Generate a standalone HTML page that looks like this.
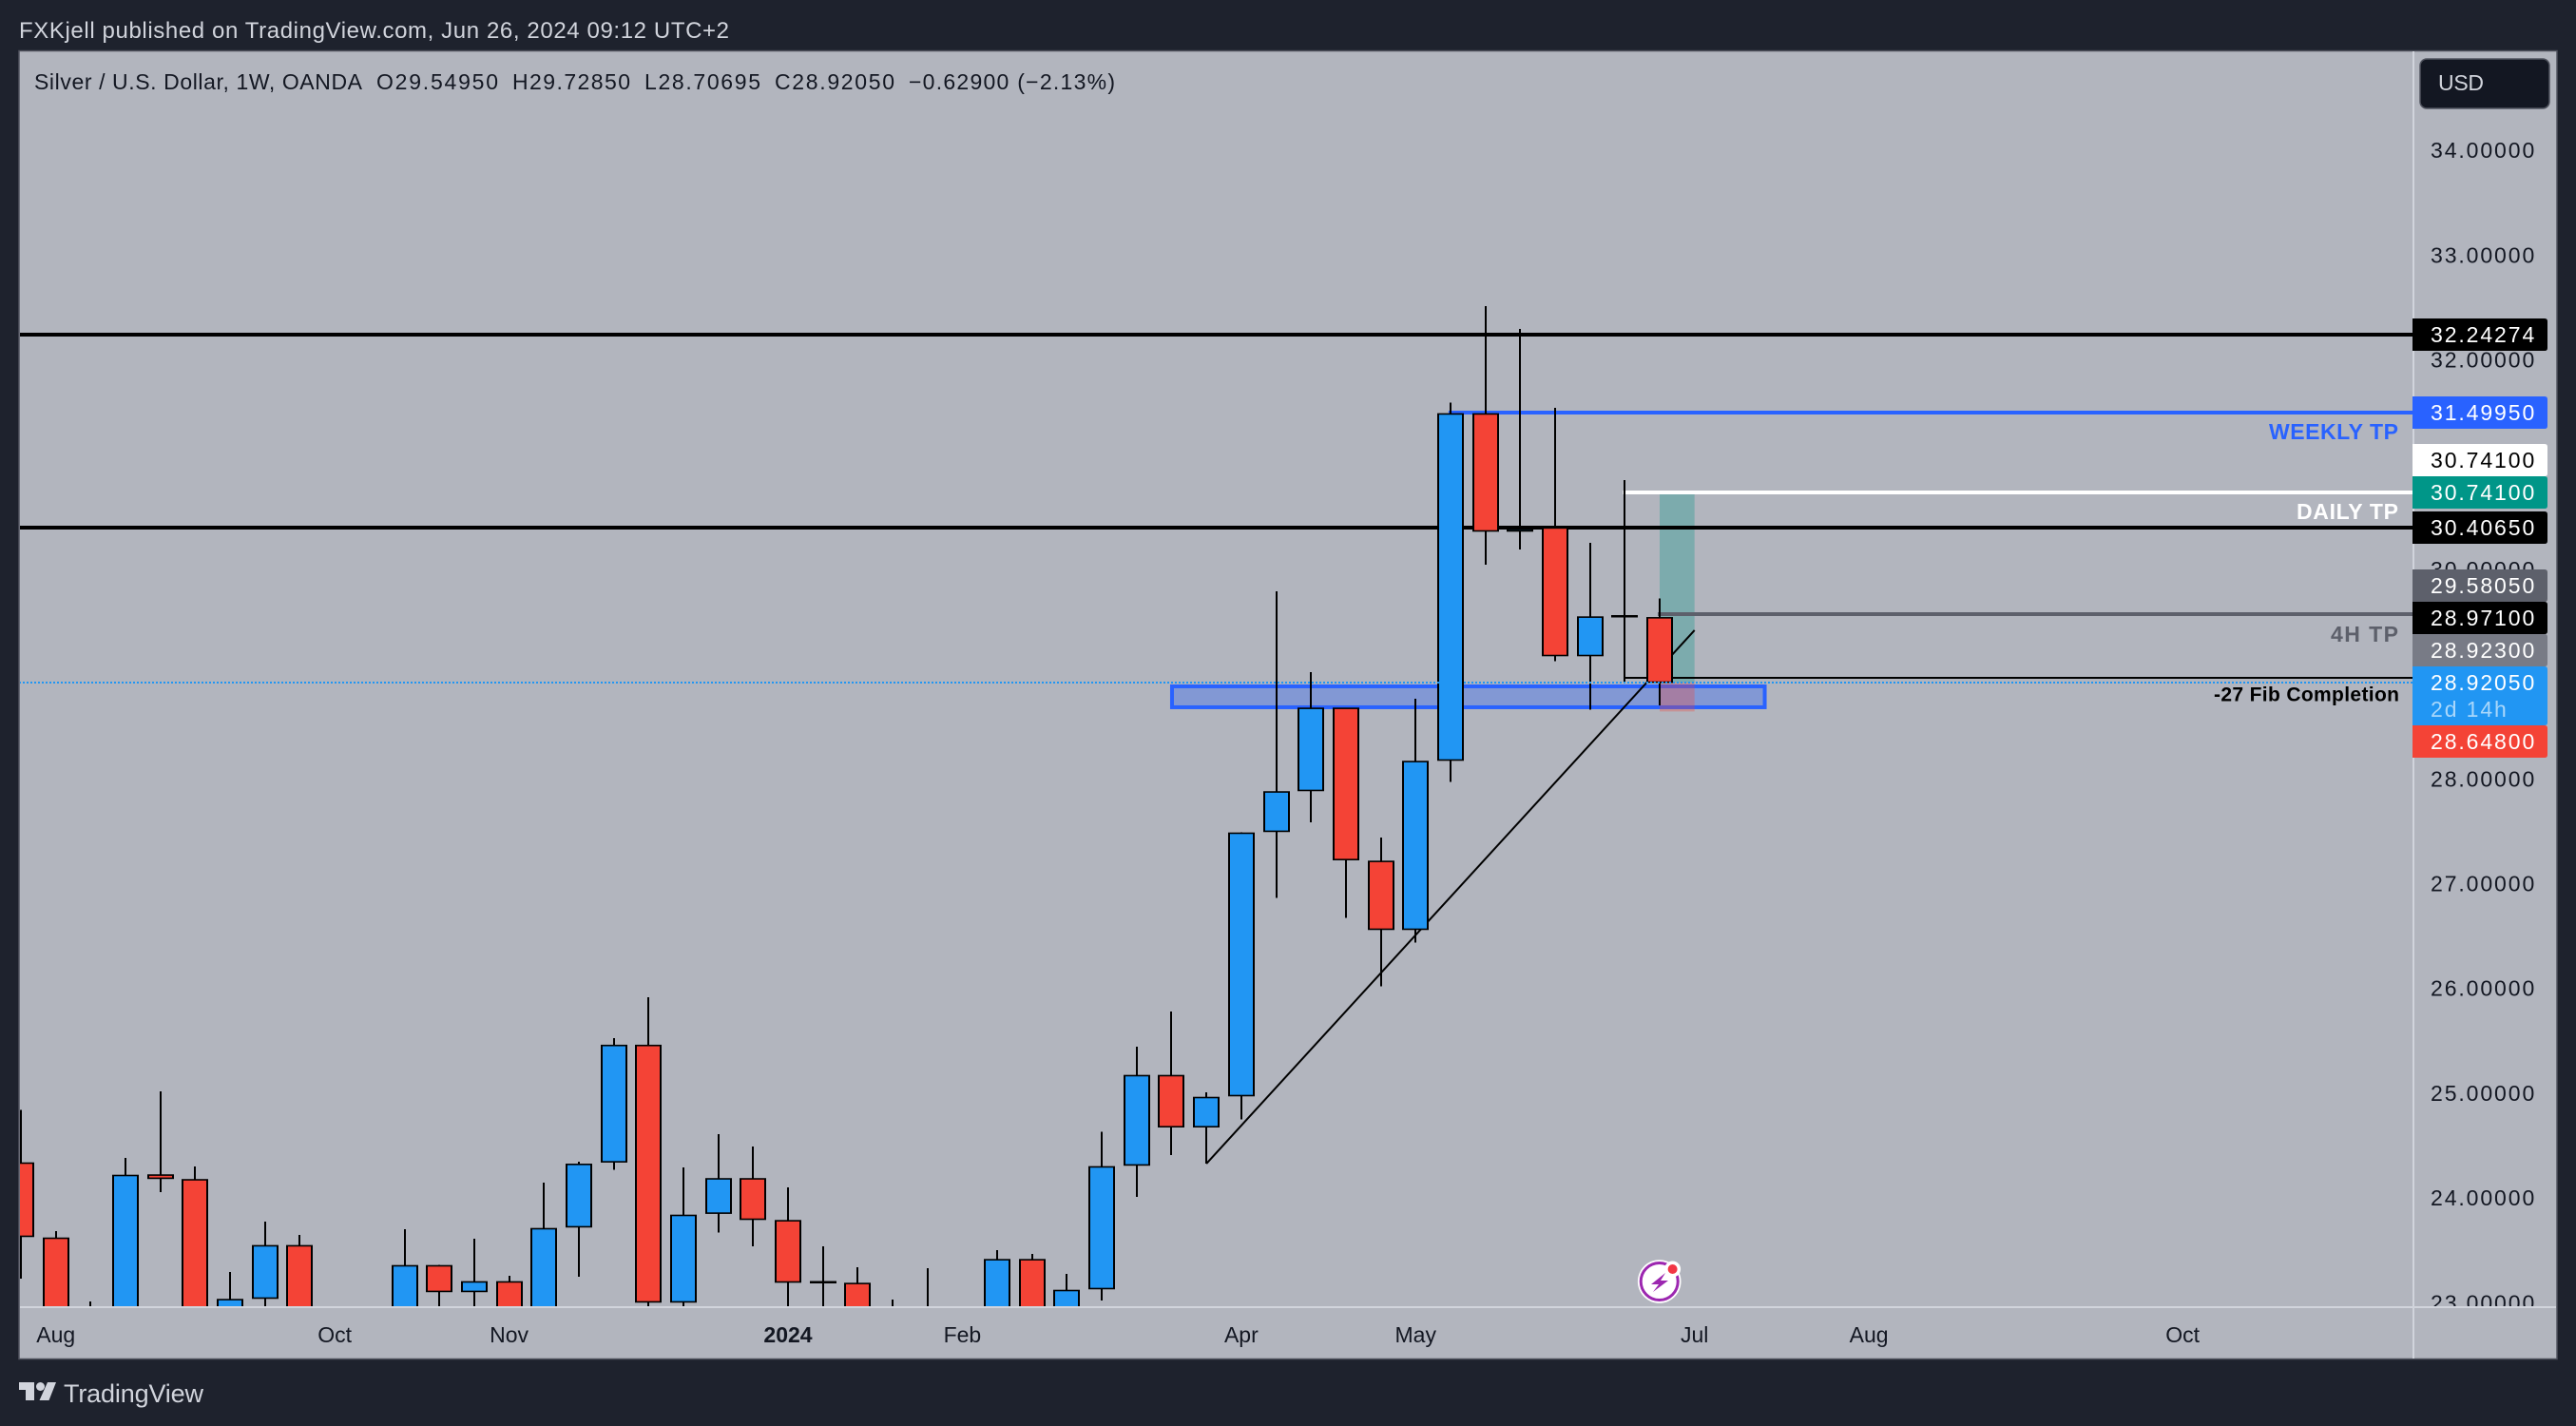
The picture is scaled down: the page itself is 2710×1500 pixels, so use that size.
<!DOCTYPE html>
<html lang="en">
<head>
<meta charset="utf-8">
<title>Silver / U.S. Dollar weekly chart</title>
<style>
html,body{margin:0;padding:0;background:#1e222d;width:2710px;height:1500px;overflow:hidden}
svg{display:block;font-family:"Liberation Sans",sans-serif}
</style>
</head>
<body>
<svg id="chart" xmlns="http://www.w3.org/2000/svg" width="2710" height="1500" viewBox="0 0 2710 1500">
  <defs>
    <clipPath id="pane-clip"><rect x="21" y="54" width="2517" height="1320"/></clipPath>
    <clipPath id="axis-clip"><rect x="2540" y="54" width="150" height="1320"/></clipPath>
  </defs>
  <rect x="0" y="0" width="2710" height="1500" fill="#1e222d"/>
  <text x="20" y="40" font-size="24" fill="#d1d4dc" textLength="747" lengthAdjust="spacing">FXKjell published on TradingView.com, Jun 26, 2024 09:12 UTC+2</text>
  <rect x="20" y="53.5" width="2670" height="1376" fill="#b2b5be" stroke="#50535e" stroke-width="1.5"/>
  <g id="pane" clip-path="url(#pane-clip)"></g>
  <g font-size="23" fill="#131722">
    <text x="36" y="94" textLength="345" lengthAdjust="spacing">Silver / U.S. Dollar, 1W, OANDA</text>
    <text x="396" y="94" textLength="128" lengthAdjust="spacing">O29.54950</text>
    <text x="539" y="94" textLength="124" lengthAdjust="spacing">H29.72850</text>
    <text x="678" y="94" textLength="122" lengthAdjust="spacing">L28.70695</text>
    <text x="815" y="94" textLength="126" lengthAdjust="spacing">C28.92050</text>
    <text x="956" y="94" textLength="217" lengthAdjust="spacing">−0.62900 (−2.13%)</text>
  </g>
  <g id="annotations" font-size="23" font-weight="700" text-anchor="end">
    <text x="2523" y="462" fill="#2962ff" textLength="136" lengthAdjust="spacing">WEEKLY TP</text>
    <text x="2523" y="546" fill="#ffffff" textLength="107" lengthAdjust="spacing">DAILY TP</text>
    <text x="2523" y="675" fill="#5d606b" textLength="71" lengthAdjust="spacing">4H TP</text>
    <text x="2524" y="737.5" fill="#000000" font-size="21" textLength="195" lengthAdjust="spacing">-27 Fib Completion</text>
  </g>
  <g>
    <circle cx="1745.7" cy="1348" r="22.8" fill="#ffffff"/>
    <circle cx="1745.7" cy="1348" r="19.5" fill="#ffffff" stroke="#9c27b0" stroke-width="3"/>
    <polygon points="1752,1339 1737,1351 1745,1351 1739,1359 1755,1347 1747,1347" fill="#9c27b0"/>
    <circle cx="1759.6" cy="1335" r="8.5" fill="#ffffff"/>
    <circle cx="1759.6" cy="1335" r="5" fill="#f23645"/>
  </g>
  <g id="time-axis" font-size="23" fill="#131722" text-anchor="middle"></g>
  <g id="price-axis" clip-path="url(#axis-clip)" font-size="23" fill="#131722" style="letter-spacing:1.9px"></g>
  <rect x="21" y="1374" width="2668" height="2" fill="#d1d4dc"/>
  <rect x="2538" y="54" width="2" height="1375" fill="#d1d4dc"/>
  <g id="tags" font-size="23" style="letter-spacing:1.9px"></g>
  <g>
    <rect x="2546" y="62" width="136" height="52" rx="7" fill="#131722" stroke="#50535e" stroke-width="1.5"/>
    <text x="2565" y="95" font-size="23" fill="#d1d4dc" textLength="48" lengthAdjust="spacing">USD</text>
  </g>
  <g>
    <polygon points="20,1454 36,1454 36,1473 27,1473 27,1462 20,1462" fill="#d1d4dc"/>
    <circle cx="42.5" cy="1458.5" r="4.5" fill="#d1d4dc"/>
    <polygon points="50,1454 59,1454 51.5,1473 41.5,1473" fill="#d1d4dc"/>
    <text x="67" y="1475" font-size="27" fill="#d1d4dc" textLength="147" lengthAdjust="spacing">TradingView</text>
  </g>
</svg>
<script>
// Weekly OHLC values (values beyond the visible range are estimates)
var opens = [24.344,23.627,22.6,22.7,24.23,24.185,22.6,23.041,23.555,22.8,22.5,22.7,23.364,23.105,23.21,22.9,23.722,24.342,25.467,23.005,23.852,24.194,23.794,23.201,23.195,22.85,22.8,22.9,22.8,23.422,22.85,23.132,24.312,25.179,24.677,24.974,27.497,27.887,28.685,27.224,26.562,28.177,31.495,30.364,30.4065,29.175,29.559,29.5495];
var highs = [24.847,23.688,23.017,24.387,25.022,24.305,23.298,23.779,23.652,22.95,22.9,23.706,23.364,23.616,23.262,24.151,24.351,25.53,25.92,24.296,24.614,24.496,24.106,23.543,23.343,23.035,23.334,22.95,23.507,23.47,23.28,24.638,25.449,25.784,25.013,27.493,29.795,29.024,28.685,27.445,28.77,31.598,32.517,32.299,31.546,30.258,30.857,29.7285];
var lows = [23.234,22.5,22.4,22.5,24.06,22.7,22.4,22.9,22.6,22.3,22.2,22.6,22.9,22.9,22.7,22.7,23.253,24.272,22.9,22.9,23.673,23.543,22.9,22.9,22.7,22.6,22.5,22.4,22.6,22.6,22.7,23.026,24.015,24.414,24.332,24.753,26.867,27.59,26.676,26.023,26.44,27.974,30.049,30.194,29.126,28.664,28.921,28.70695];
var closes = [23.631,22.7,22.8,24.226,24.185,22.9,23.041,23.555,22.8,22.5,22.6,23.364,23.105,23.21,22.9,23.718,24.332,25.467,23.005,23.845,24.194,23.794,23.195,23.201,22.85,22.7,22.9,22.5,23.422,22.8,23.128,24.308,25.179,24.677,24.97,27.493,27.887,28.685,27.227,26.562,28.177,31.495,30.364,30.394,29.175,29.556,29.559,28.9205];

// Axis tick labels
var priceTicks = [34,33,32,31,30,29,28,27,26,25,24,23];
var timeTickBars = [1,9,14,22,27,35,40,48,53,62];
var timeTickLabels = ['Aug','Oct','Nov','2024','Feb','Apr','May','Jul','Aug','Oct'];
var timeTickBold = ['2024'];

// Drawing tool levels
var supportLevels = [32.24274,30.4065];
var weeklyTpLevel = 31.4995;
var dailyTpLevel = 30.741;
var fourHourTpLevel = 29.5805;
var fibLevel = 28.971;
var lastPrice = 28.9205;
var zoneTop = 28.906;
var zoneBottom = 28.67;
var positionTarget = 30.741;
var positionEntry = 28.923;
var positionStop = 28.648;
var trendStart = [34,24.332];
var trendEnd = [48,29.423];

// Price scale tags, top to bottom
var tagValues = [32.24274,31.4995,30.741,30.741,30.4065,29.5805,28.971,28.923,28.9205,28.648];
var tagNames = ['support-high','weekly-tp','daily-tp','position-target','support-low','four-hour-tp','fib-level','position-entry','last-price','position-stop'];
var tagFills = ['#000000','#2962ff','#ffffff','#009688','#000000','#5d606b','#000000','#787b86','#2196f3','#f44336'];
var tagInks = ['#ffffff','#ffffff','#000000','#ffffff','#ffffff','#ffffff','#ffffff','#ffffff','#ffffff','#ffffff'];
var pinnedTag = 8;
var countdownText = '2d 14h';

var NS = 'http://www.w3.org/2000/svg';
var BAR_STEP = 36.68, LAST_BAR = 47, LAST_BAR_X = 1746;
var PRICE_REF = 32, PRICE_REF_Y = 379, PX_PER_UNIT = 110.2;
var PANE_LEFT = 20, PANE_RIGHT = 2538;
var UP = '#2196f3', DOWN = '#f44336';

function xAt(i){ return LAST_BAR_X + (i - LAST_BAR) * BAR_STEP; }
function yAt(p){ return PRICE_REF_Y + (PRICE_REF - p) * PX_PER_UNIT; }
function make(tag, attrs, parent){
  var n = document.createElementNS(NS, tag);
  for (var k in attrs) n.setAttribute(k, attrs[k]);
  parent.appendChild(n);
  return n;
}

var pane = document.getElementById('pane');

// position tool
var profitBox = make('rect', {x:xAt(47), y:yAt(positionTarget)+2, width:xAt(48)-xAt(47), height:yAt(positionEntry)-yAt(positionTarget)-2, fill:'#009688', 'fill-opacity':0.3}, pane);



// blue demand zone
var zone = make('rect', {x:xAt(33)+0.5, y:yAt(zoneTop)+2, width:xAt(50)-xAt(33), height:yAt(zoneBottom)-yAt(zoneTop)-4, fill:'#2962ff', 'fill-opacity':0.35, stroke:'#2962ff', 'stroke-width':4}, pane);



var stopBox = make('rect', {x:xAt(47), y:yAt(positionEntry), width:xAt(48)-xAt(47), height:yAt(positionStop)-yAt(positionEntry), fill:'#f44336', 'fill-opacity':0.3}, pane);



// horizontal levels
function hLine(p, fromX, color, w){
  var r = make('rect', {x:fromX, y:Math.round(yAt(p)-w/2), width:PANE_RIGHT-fromX, height:w, fill:color}, pane);
  return r;
}
supportLevels.forEach(function(p){
  var l = hLine(p, PANE_LEFT, '#000000', 4);
  
  
});
var weeklyLine = hLine(weeklyTpLevel, xAt(41)-2, '#2962ff', 4);


var dailyLine = hLine(dailyTpLevel, xAt(46)-2, '#ffffff', 4);


var fourLine = hLine(fourHourTpLevel, xAt(47)-2, '#5d606b', 4);


var fibLine = hLine(fibLevel, xAt(46), '#000000', 2);



// trend line
var trend = make('line', {x1:xAt(trendStart[0]), y1:yAt(trendStart[1]), x2:xAt(trendEnd[0]), y2:yAt(trendEnd[1]), stroke:'#000000', 'stroke-width':2}, pane);



// candles
closes.forEach(function(c, i){
  var o = opens[i], cx = Math.round(xAt(i)), bw = 28;
  var g = make('g', {}, pane);
  
  
  var wick = make('rect', {x:cx-1, y:yAt(highs[i]), width:2, height:yAt(lows[i])-yAt(highs[i]), fill:'#000000', 'shape-rendering':'crispEdges'}, g);
  
  
  var top = yAt(Math.max(o,c)), bot = yAt(Math.min(o,c)), h = bot-top;
  var body;
  if (h < 3) {
    body = make('rect', {x:cx-bw/2, y:top-1, width:bw, height:2.5, fill:'#000000', 'shape-rendering':'crispEdges'}, g);
  } else {
    body = make('rect', {x:cx-bw/2, y:top, width:bw, height:h, fill:'#000000'}, g);
    var inner = make('rect', {x:cx-bw/2+2, y:top+1.6, width:bw-4, height:h-3.2, fill:c>=o?UP:DOWN}, g);
    
    
  }
  
  
});

// last price dotted line
var dots = make('line', {x1:PANE_LEFT, y1:Math.round(yAt(lastPrice)), x2:PANE_RIGHT, y2:Math.round(yAt(lastPrice)), stroke:'#2196f3', 'stroke-width':2, 'stroke-dasharray':'2 2'}, pane);



// price axis ticks
var priceAxis = document.getElementById('price-axis');
priceTicks.forEach(function(p){
  var t = make('text', {x:2557, y:yAt(p)+7.5}, priceAxis);
  
  
  t.textContent = p.toFixed(5);
});

// time axis ticks
var timeAxis = document.getElementById('time-axis');
timeTickLabels.forEach(function(label, i){
  var t = make('text', {x:xAt(timeTickBars[i]), y:1412}, timeAxis);
  if (timeTickBold.indexOf(label) >= 0) t.setAttribute('font-weight', '700');
  
  
  t.textContent = label;
});

// price tags: the last-price tag stays pinned, others stack away from it
var TAG_H = 34, PIN_H = 62;
var tagTops = tagValues.map(function(p){ return yAt(p) - TAG_H/2; });
var ceil = tagTops[pinnedTag];
for (var a = pinnedTag-1; a >= 0; a--) {
  tagTops[a] = Math.min(tagTops[a], ceil - TAG_H);
  ceil = tagTops[a];
}
var floorY = tagTops[pinnedTag] + PIN_H;
for (var b = pinnedTag+1; b < tagValues.length; b++) {
  tagTops[b] = Math.max(tagTops[b], floorY);
  floorY = tagTops[b] + TAG_H;
}
var tags = document.getElementById('tags');
tagValues.forEach(function(p, i){
  var top = Math.round(tagTops[i]), h = i === pinnedTag ? PIN_H : TAG_H;
  var g = make('g', {}, tags);
  
  
  var L = 2538, R = 2680, r = 3;
  var box = make('path', {d:'M'+L+' '+top+'H'+(R-r)+'Q'+R+' '+top+' '+R+' '+(top+r)+'V'+(top+h-r)+'Q'+R+' '+(top+h)+' '+(R-r)+' '+(top+h)+'H'+L+'Z', fill:tagFills[i]}, g);
  
  
  var t = make('text', {x:2557, y:top+25, fill:tagInks[i]}, g);
  
  
  t.textContent = p.toFixed(5);
  if (i === pinnedTag) {
    var cd = make('text', {x:2557, y:top+53, fill:'#a9d7fb'}, g);
    
    
    cd.textContent = countdownText;
  }
});
</script>
</body>
</html>
